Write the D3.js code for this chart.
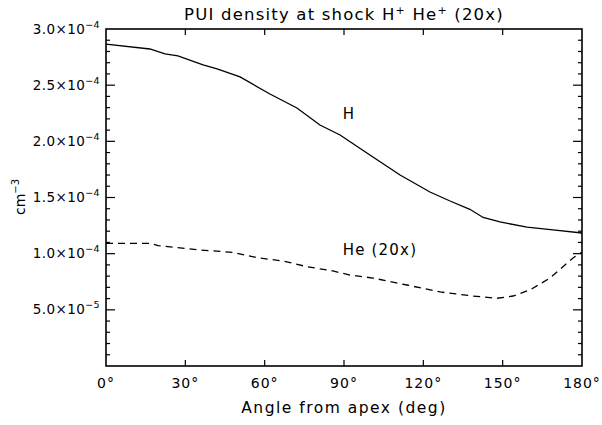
<!DOCTYPE html>
<html>
<head>
<meta charset="utf-8">
<script src="https://cdn.jsdelivr.net/npm/d3@7"></script>
<style>
  body { margin: 0; background: #fff; }
  text { font-family: "DejaVu Sans", sans-serif; fill: #000; }
</style>
</head>
<body>
<div class="chart_area"></div>
<script>
// H+ density (cm^-3) vs angle from apex
var hAngle = [0, 16.6, 22.3, 27.2, 36.7, 42.0, 50.7, 62.0, 72.2, 80.9, 88.5, 99.8, 111.2, 122.5, 130.1, 137.6, 142.6, 149.0, 159.2, 169.0, 180];
var hValue = [2.866e-4, 2.822e-4, 2.778e-4, 2.760e-4, 2.680e-4, 2.644e-4, 2.573e-4, 2.421e-4, 2.297e-4, 2.145e-4, 2.056e-4, 1.878e-4, 1.700e-4, 1.549e-4, 1.469e-4, 1.395e-4, 1.322e-4, 1.282e-4, 1.237e-4, 1.211e-4, 1.184e-4];

// He+ density x20
var heAngle = [0, 16.6, 19.7, 35.5, 48.0, 57.1, 66.9, 76.0, 85.8, 92.3, 100.9, 113.8, 126.3, 138.8, 147.9, 153.9, 160.3, 167.9, 176.6, 180];
var heValue = [1.092e-4, 1.092e-4, 1.071e-4, 1.033e-4, 1.012e-4, 0.964e-4, 0.935e-4, 0.884e-4, 0.846e-4, 0.810e-4, 0.783e-4, 0.721e-4, 0.659e-4, 0.623e-4, 0.603e-4, 0.623e-4, 0.677e-4, 0.783e-4, 0.961e-4, 1.015e-4];

var xTicks = [0, 30, 60, 90, 120, 150, 180];
var yTicks = [5e-5, 1e-4, 1.5e-4, 2e-4, 2.5e-4, 3e-4];
var yLabels = [["5.0", "-5"], ["1.0", "-4"], ["1.5", "-4"], ["2.0", "-4"], ["2.5", "-4"], ["3.0", "-4"]];

var margin = { top: 29, right: 20, bottom: 59, left: 106 },
    width = 602 - margin.left - margin.right,
    height = 425 - margin.top - margin.bottom;

var svg = d3.select(".chart_area")
    .append("svg")
    .attr("width", 602)
    .attr("height", 425);

var g = svg.append("g")
    .attr("transform", "translate(" + margin.left + "," + margin.top + ")");

var x = d3.scaleLinear().domain([0, 180]).range([0, width]);
var y = d3.scaleLinear().domain([0, 3e-4]).range([height, 0]);

// frame
g.append("rect")
    .attr("width", width).attr("height", height)
    .attr("fill", "none").attr("stroke", "#000").attr("stroke-width", 1.6);

// x ticks bottom and top, pointing inward
g.selectAll(".xt").data(xTicks.slice(1, -1)).enter().append("line")
    .attr("x1", d => x(d)).attr("x2", d => x(d))
    .attr("y1", height).attr("y2", height - 6)
    .attr("stroke", "#000").attr("stroke-width", 1.2);
g.selectAll(".xtt").data(xTicks.slice(1, -1)).enter().append("line")
    .attr("x1", d => x(d)).attr("x2", d => x(d))
    .attr("y1", 0).attr("y2", 6)
    .attr("stroke", "#000").attr("stroke-width", 1.2);

// y ticks left and right, minor every 1e-5
var minor = d3.range(1, 30).map(i => i * 1e-5);
minor.forEach(function(v) {
    var major = Math.abs(Math.round(v / 5e-5) * 5e-5 - v) < 1e-9;
    var len = major ? 9 : 4;
    g.append("line").attr("x1", 0).attr("x2", len)
        .attr("y1", y(v)).attr("y2", y(v))
        .attr("stroke", "#000").attr("stroke-width", 1.2);
    g.append("line").attr("x1", width).attr("x2", width - len)
        .attr("y1", y(v)).attr("y2", y(v))
        .attr("stroke", "#000").attr("stroke-width", 1.2);
});

// x tick labels
g.selectAll(".xl").data(xTicks).enter().append("text")
    .attr("x", d => x(d)).attr("y", height + 22)
    .attr("text-anchor", "middle")
    .style("font-size", "14px").style("letter-spacing", "1px")
    .text(d => d + "\u00b0");

// y tick labels with exponent
yTicks.forEach(function(v, i) {
    var t = g.append("text")
        .attr("x", -6).attr("y", y(v) + 4.5)
        .attr("text-anchor", "end")
        .style("font-size", "13.5px").style("letter-spacing", "0.4px");
    t.append("tspan").text(yLabels[i][0] + "\u00d710");
    t.append("tspan").attr("dy", -6).style("font-size", "9.5px").text(yLabels[i][1].replace("-", "\u2212"));
});

// curves
var line = d3.line().x(d => x(d[0])).y(d => y(d[1]));

g.append("path")
    .datum(d3.zip(hAngle, hValue))
    .attr("d", line)
    .attr("fill", "none").attr("stroke", "#000").attr("stroke-width", 1.3);

g.append("path")
    .datum(d3.zip(heAngle, heValue))
    .attr("d", line)
    .attr("fill", "none").attr("stroke", "#000").attr("stroke-width", 1.3)
    .attr("stroke-dasharray", "7,5");

// curve labels
g.append("text").attr("x", x(89.5)).attr("y", y(2.20e-4))
    .style("font-size", "15px").text("H");
g.append("text").attr("x", x(89.5)).attr("y", y(0.988e-4))
    .style("font-size", "15px").style("letter-spacing", "1.2px").text("He (20x)");

// title
var title = svg.append("text")
    .attr("x", margin.left + width / 2).attr("y", 20)
    .attr("text-anchor", "middle")
    .style("font-size", "16.5px").style("letter-spacing", "1.2px");
title.append("tspan").text("PUI density at shock H");
title.append("tspan").attr("dy", -6).style("font-size", "11px").text("+");
title.append("tspan").attr("dy", 6).text(" He");
title.append("tspan").attr("dy", -6).style("font-size", "11px").text("+");
title.append("tspan").attr("dy", 6).text(" (20x)");

// axis titles
svg.append("text")
    .attr("x", margin.left + width / 2).attr("y", 413)
    .attr("text-anchor", "middle")
    .style("font-size", "15.5px").style("letter-spacing", "1.5px")
    .text("Angle from apex (deg)");

var yt = svg.append("text")
    .attr("transform", "translate(25,197) rotate(-90)")
    .attr("text-anchor", "middle")
    .style("font-size", "14px");
yt.append("tspan").text("cm");
yt.append("tspan").attr("dy", -6).style("font-size", "10px").text("\u22123");
</script>
</body>
</html>
